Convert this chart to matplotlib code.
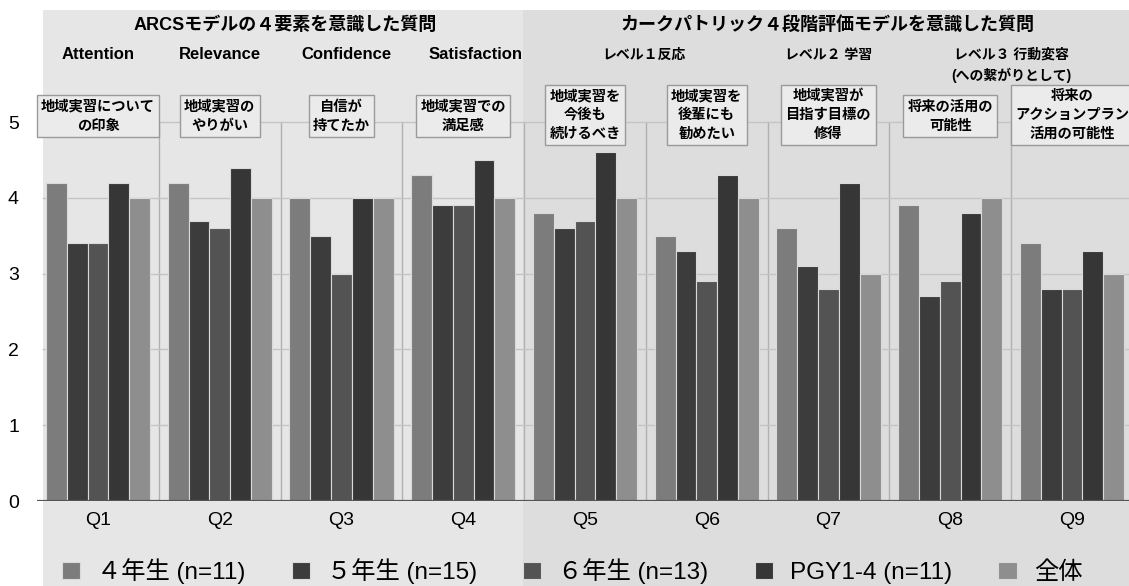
import matplotlib
matplotlib.use('Agg')
import matplotlib.pyplot as plt
from matplotlib.patches import Rectangle
import numpy as np

plt.rcParams['font.family'] = ['Liberation Sans', 'Noto Sans CJK JP', 'DejaVu Sans']

# ---- data ----
questions = ['Q1', 'Q2', 'Q3', 'Q4', 'Q5', 'Q6', 'Q7', 'Q8', 'Q9']
series_names = ['４年生 (n=11)', '５年生 (n=15)', '６年生 (n=13)', 'PGY1-4 (n=11)', '全体']
grade4 = [4.2, 4.2, 4.0, 4.3, 3.8, 3.5, 3.6, 3.9, 3.4]
grade5 = [3.4, 3.7, 3.5, 3.9, 3.6, 3.3, 3.1, 2.7, 2.8]
grade6 = [3.4, 3.6, 3.0, 3.9, 3.7, 2.9, 2.8, 2.9, 2.8]
pgy = [4.2, 4.4, 4.0, 4.5, 4.6, 4.3, 4.2, 3.8, 3.3]
overall = [4.0, 4.0, 4.0, 4.0, 4.0, 4.0, 3.0, 4.0, 3.0]
series_values = [grade4, grade5, grade6, pgy, overall]
series_colors = ['#7c7c7c', '#3c3c3c', '#535353', '#363636', '#8e8e8e']

yticks = [0, 1, 2, 3, 4, 5]

group_titles = ['ARCSモデルの４要素を意識した質問', 'カークパトリック４段階評価モデルを意識した質問']
arcs_labels = ['Attention', 'Relevance', 'Confidence', 'Satisfaction']
kirk_labels = ['レベル１反応', 'レベル２ 学習', 'レベル３ 行動変容\n(への繋がりとして)']
box_texts = [
    '地域実習について\nの印象',
    '地域実習の\nやりがい',
    '自信が\n持てたか',
    '地域実習での\n満足感',
    '地域実習を\n今後も\n続けるべき',
    '地域実習を\n後輩にも\n勧めたい',
    '地域実習が\n目指す目標の\n修得',
    '将来の活用の\n可能性',
    '将来の\nアクションプラン\n活用の可能性',
]

# ---- figure ----
W, H = 1129, 586
fig = plt.figure(figsize=(W / 100, H / 100), dpi=100)
fig.patch.set_facecolor('white')

def fx(px):
    return px / W

def fy(py):
    return 1 - py / H

# panel backgrounds (behind the axes)
fig.add_artist(Rectangle((fx(43), 0), fx(523) - fx(43), fy(10), transform=fig.transFigure,
                         facecolor='#e6e6e6', edgecolor='none', zorder=-5))
fig.add_artist(Rectangle((fx(523), 0), 1 - fx(523), fy(10), transform=fig.transFigure,
                         facecolor='#dddddd', edgecolor='none', zorder=-5))

ax = fig.add_axes([fx(37), fy(501), fx(1129) - fx(37), fy(10) - fy(501)])
ax.set_zorder(1)
ax.set_facecolor('none')
ax.set_xlim(-0.501, 8.468)
ax.set_ylim(0, 6.48)
for s in ax.spines.values():
    s.set_visible(False)

x = np.arange(len(questions))
width = 0.171
for j, (vals, col) in enumerate(zip(series_values, series_colors)):
    ax.bar(x + (j - 2) * width, vals, width, color=col, edgecolor='#dadada', linewidth=0.8,
           label=series_names[j], zorder=3)

# gridlines and separators
for t in yticks[1:]:
    ax.plot([-0.45, 8.468], [t, t], color='#c4c4c4', linewidth=1, zorder=2.5)
for i in range(len(questions) - 1):
    ax.plot([i + 0.5, i + 0.5], [0, 5], color='#b0b0b0', linewidth=1, zorder=1)
ax.axhline(0, color='#555555', linewidth=1.6, zorder=4)

ax.set_yticks(yticks)
ax.set_yticklabels([str(t) for t in yticks], fontsize=14)
ax.tick_params(axis='y', length=0, pad=13)
ax.set_xticks(x)
ax.set_xticklabels(questions, fontsize=14)
ax.tick_params(axis='x', length=0, pad=8)

def ypx(py):
    return (501 - py) / 75.8

def xpx(px):
    return (px - 98) / 121.75

# group titles
ax.text(xpx(285), ypx(25), group_titles[0], ha='center', va='center', fontsize=13, fontweight='bold')
ax.text(xpx(827), ypx(25), group_titles[1], ha='center', va='center', fontsize=13, fontweight='bold')

# ARCS sub labels
arcs_x = [0, 1, 2.04, 3.1]
for lab, xx in zip(arcs_labels, arcs_x):
    ax.text(xx, ypx(54), lab, ha='center', va='center', fontsize=12, fontweight='bold')

# Kirkpatrick levels
ax.text(4.48, ypx(55), kirk_labels[0], ha='center', va='center', fontsize=10, fontweight='bold')
ax.text(6.0, ypx(55), kirk_labels[1], ha='center', va='center', fontsize=10, fontweight='bold')
ax.text(7.5, ypx(65), kirk_labels[2], ha='center', va='center', fontsize=10, fontweight='bold',
        linespacing=1.5)

# question boxes
for i, t in enumerate(box_texts):
    nlines = t.count('\n') + 1
    yc = ypx(116) if nlines == 2 else ypx(115)
    ax.text(x[i], yc, t, ha='center', va='center', fontsize=10.3, fontweight='bold',
            linespacing=1.45, zorder=5,
            bbox=dict(boxstyle='square,pad=0.3', facecolor='#ebebeb', edgecolor='#9a9a9a',
                      linewidth=1))

# legend
fig.legend(loc='center', bbox_to_anchor=(fx(572), fy(571)), ncol=5, frameon=False,
           fontsize=17.5, handlelength=0.75, handleheight=0.75, handletextpad=0.7,
           columnspacing=1.9)

fig.savefig('out.png', dpi=100)
